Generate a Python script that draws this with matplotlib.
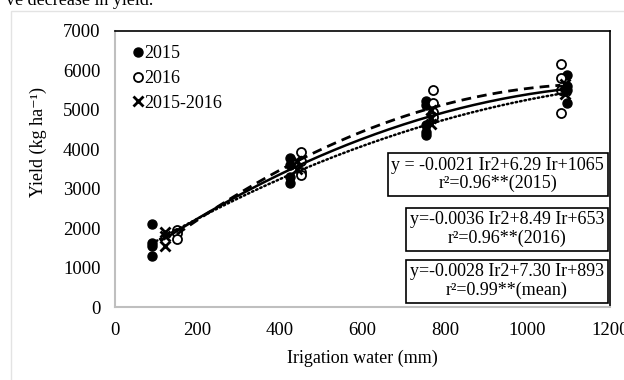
import numpy as np
import matplotlib
matplotlib.use('Agg')
import matplotlib.pyplot as plt
from matplotlib.lines import Line2D
from matplotlib.patches import Rectangle

plt.rcParams['font.family'] = ['Liberation Serif', 'DejaVu Serif']

# irrigation water (mm) and yield (kg/ha)
x2015 = [90, 90, 90, 90, 425, 425, 425, 425, 755, 755, 755, 755, 755, 1095, 1095, 1095, 1095]
y2015 = [2100, 1620, 1550, 1300, 3780, 3600, 3300, 3150, 5230, 5130, 4620, 4450, 4350, 5890, 5600, 5510, 5180]
x2016 = [150, 150, 150, 450, 450, 450, 450, 772, 772, 772, 772, 1080, 1080, 1080, 1080]
y2016 = [1950, 1880, 1720, 3930, 3700, 3420, 3350, 5500, 5180, 4950, 4820, 6170, 5810, 5500, 4930]
xmean = [120, 120, 120, 440, 440, 765, 765, 765, 1090, 1090, 1090]
ymean = [1900, 1800, 1550, 3700, 3500, 5000, 4800, 4650, 5650, 5500, 5400]

# trendline coefficients as printed on the chart (Ir^2, Ir, const)
coef2015 = [-0.0021, 6.29, 1065]
coef2016 = [-0.0036, 8.49, 653]
coefmean = [-0.0028, 7.30, 893]

legend_labels = ['2015', '2016', '2015-2016']
eq_texts = ['y = -0.0021 Ir2+6.29 Ir+1065\nr\u00b2=0.96**(2015)',
            'y=-0.0036 Ir2+8.49 Ir+653\nr\u00b2=0.96**(2016)',
            'y=-0.0028 Ir2+7.30 Ir+893\nr\u00b2=0.99**(mean)']

fig = plt.figure(figsize=(6.24, 3.8), dpi=100)
ax = fig.add_axes([115 / 624, 1 - 307 / 380, 495 / 624, 276 / 380])

# light chart-area border, as in the Excel export
fig.patches.append(Rectangle((11 / 624, -0.1), 1.2, 1 - 11 / 380 + 0.1, transform=fig.transFigure,
                             fill=False, edgecolor='#e3e3e3', linewidth=1.0))
fig.text(0.01, 0.988, 've decrease in yield.', fontsize=13, va='baseline')

ms = 6.5
ax.plot(x2015, y2015, 'o', color='black', markersize=ms, zorder=3)
ax.plot(x2016, y2016, 'o', markerfacecolor='white', markeredgecolor='black',
        markeredgewidth=1.3, markersize=ms, zorder=3)
ax.plot(xmean, ymean, 'x', color='black', markersize=7.5, markeredgewidth=2, zorder=3)

# second order trendlines over each series' range
def trend(xs, coef):
    xx = np.linspace(min(xs), max(xs), 200)
    return xx, np.polyval(coef, xx)

xx, yy = trend(x2016, coef2016)
ax.plot(xx, yy, color='black', linestyle=(0, (3.5, 2.2)), linewidth=2.0, zorder=4)
xx, yy = trend(xmean, coefmean)
ax.plot(xx, yy, color='black', linestyle='-', linewidth=1.8, zorder=4)
xx, yy = trend(x2015, coef2015)
ax.plot(xx, yy, color='black', linestyle=(0, (0.6, 1.2)), linewidth=1.8,
        dash_capstyle='round', zorder=4)

ax.set_xlim(0, 1200)
ax.set_ylim(0, 7000)
ax.set_xticks(range(0, 1201, 200))
ax.set_yticks(range(0, 7001, 1000))
ax.tick_params(length=0, labelsize=13.5, pad=10.5)
for s in ['left', 'bottom']:
    ax.spines[s].set_color('#bfbfbf')
    ax.spines[s].set_linewidth(1.5)
for s in ['top', 'right']:
    ax.spines[s].set_color('black')
    ax.spines[s].set_linewidth(1.2)

ax.set_xlabel('Irigation water (mm)', fontsize=13)
ax.xaxis.set_label_coords(0.5, -(358 - 307) / 276)
ax.set_ylabel('Yield (kg ha\u207b\u00b9)', fontsize=13)
ax.yaxis.set_label_coords(-(115 - 38) / 495, (307 - 142) / 276)
ax.xaxis.label.set_va('center')
ax.yaxis.label.set_va('center')

handles = [Line2D([], [], marker='o', color='black', linestyle='', markersize=ms),
           Line2D([], [], marker='o', markerfacecolor='white', markeredgecolor='black',
                  markeredgewidth=1.3, linestyle='', markersize=ms),
           Line2D([], [], marker='x', color='black', markeredgewidth=2, linestyle='', markersize=7.5)]
ax.legend(handles, legend_labels, loc='upper left', bbox_to_anchor=(0.007, 1.0), frameon=False,
          fontsize=13, handlelength=0.6, handletextpad=0.05, labelspacing=0.42, borderpad=0.3)

# equation boxes: right edge x and centre y in pixels of the reference
eq_pos = [(604, 174.5), (604, 229), (604, 281)]
for (px, py), t in zip(eq_pos, eq_texts):
    ax.text((px - 115) / 495, (307 - py) / 276, t, transform=ax.transAxes, fontsize=13,
            ha='right', va='center', multialignment='center', linespacing=1.12, zorder=5,
            bbox=dict(boxstyle='square,pad=0.2', facecolor='white', edgecolor='black', linewidth=1.2))

fig.savefig('out.png', dpi=100)
